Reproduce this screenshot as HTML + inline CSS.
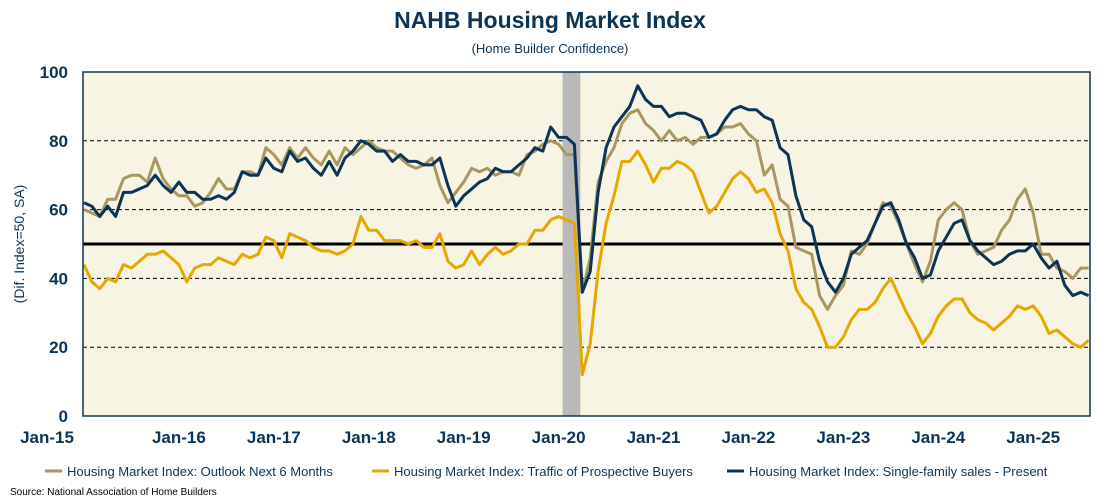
<!DOCTYPE html>
<html><head><meta charset="utf-8"><style>
body{margin:0;background:#fff;width:1100px;height:500px;overflow:hidden;font-family:"Liberation Sans",sans-serif;}
svg{display:block}
</style></head><body>
<svg id="chart" width="1100" height="500">
<text x="550" y="28" text-anchor="middle" font-size="23" font-weight="bold" fill="#0b3457">NAHB Housing Market Index</text>
<text x="550" y="53" text-anchor="middle" font-size="13" fill="#0b3457">(Home Builder Confidence)</text>
<rect x="83" y="72" width="1007" height="344" fill="#f8f4e4"/>
<g id="grid"></g>
<g id="marks"></g>
<rect x="83" y="72" width="1007" height="344" fill="none" stroke="#0b3457" stroke-width="1.5"/>
<g id="yticks"></g>
<g id="xticks"></g>
<text transform="translate(24,244) rotate(-90)" text-anchor="middle" font-size="14" fill="#0b3457">(Dif. Index=50, SA)</text>
<g font-size="13" fill="#0b3457">
<g><line x1="45" y1="471" x2="62" y2="471" stroke="#a8975f" stroke-width="3"/><text x="67" y="476">Housing Market Index: Outlook Next 6 Months</text></g>
<g><line x1="372" y1="471" x2="389" y2="471" stroke="#e6a800" stroke-width="3"/><text x="394" y="476">Housing Market Index: Traffic of Prospective Buyers</text></g>
<g><line x1="727" y1="471" x2="744" y2="471" stroke="#0b3457" stroke-width="3"/><text x="749" y="476">Housing Market Index: Single-family sales - Present</text></g>
</g>
<text x="10" y="495" font-size="10" fill="#000">Source: National Association of Home Builders</text>
</svg>
<script>
const yTicks=[0,20,40,60,80,100];
const xTickLabels=["Jan-15","Jan-16","Jan-17","Jan-18","Jan-19","Jan-20","Jan-21","Jan-22","Jan-23","Jan-24","Jan-25"];
const recessionStart=61, recessionEnd=63;
const present=[62,61,58,61,58,65,65,66,67,70,67,65,68,65,65,63,63,64,63,65,71,70,70,75,72,71,77,74,75,72,70,74,70,75,77,80,79,77,77,74,76,74,74,73,73,75,67,61,64,66,68,69,72,71,71,73,75,78,77,84,81,81,79,36,42,65,78,84,87,90,96,92,90,90,87,88,88,87,86,81,82,86,89,90,89,89,87,86,78,76,64,57,55,45,39,36,40,47,49,51,56,61,62,57,50,46,40,41,48,52,56,57,51,48,46,44,45,47,48,48,50,46,43,45,38,35,36,35];
const outlook=[60,59,58,63,63,69,70,70,68,75,69,66,64,64,61,62,65,69,66,66,71,71,70,78,76,73,78,75,78,75,73,77,73,78,76,78,80,78,77,77,75,73,72,73,75,67,62,65,68,72,71,72,70,71,71,70,76,77,79,80,79,76,76,36,46,68,74,78,85,88,89,85,83,80,83,80,81,79,81,81,82,84,84,85,82,80,70,73,63,61,49,48,47,35,31,35,38,48,47,50,56,62,61,56,50,44,39,45,57,60,62,60,51,47,48,49,54,57,63,66,59,47,47,43,42,40,43,43];
const traffic=[44,39,37,40,39,44,43,45,47,47,48,46,44,39,43,44,44,46,45,44,47,46,47,52,51,46,53,52,51,49,48,48,47,48,50,58,54,54,51,51,51,50,51,49,49,53,45,43,44,48,44,47,49,47,48,50,50,54,54,57,58,57,56,12,21,42,56,64,74,74,77,73,68,72,72,74,73,71,65,59,61,65,69,71,69,65,66,62,53,48,37,33,31,26,20,20,23,28,31,31,33,37,40,35,30,26,21,24,29,32,34,34,30,28,27,25,27,29,32,31,32,29,24,25,23,21,20,22];
const NS="http://www.w3.org/2000/svg";
const X0=84, DX=7.91, Y0=416, YS=3.44;
const xs=i=>X0+DX*i;
const ys=v=>Y0-v*YS;
function mk(tag,attrs,parent){const e=document.createElementNS(NS,tag);for(const k in attrs)e.setAttribute(k,attrs[k]);parent.appendChild(e);return e;}
const grid=document.getElementById('grid'),marks=document.getElementById('marks'),yt=document.getElementById('yticks'),xt=document.getElementById('xticks');
yTicks.forEach(t=>{
  if(t>0&&t<100){const l=mk('line',{x1:83,x2:1090,y1:ys(t),y2:ys(t),stroke:'#000','stroke-width':1,'stroke-dasharray':'4,3'},grid);
  
  }
  const tx=mk('text',{x:68,y:ys(t)+6,'text-anchor':'end','font-size':17,'font-weight':'bold',fill:'#0b3457'},yt);tx.textContent=t;
  
  
});
const ref=mk('line',{x1:83,x2:1090,y1:ys(50),y2:ys(50),stroke:'#000','stroke-width':3},grid);


const rb=mk('rect',{x:xs(recessionStart-0.5),y:72,width:xs(recessionEnd)-xs(recessionStart-0.5)-2,height:344,fill:'#b9b9b9'},marks);


xTickLabels.forEach((lab,k)=>{
  let x=xs(k*12); if(k===0)x=47;
  const tx=mk('text',{x:x,y:443,'text-anchor':'middle','font-size':17,'font-weight':'bold',fill:'#0b3457'},xt);tx.textContent=lab;
  
  
});
function line(data,color,name){
  const p=mk('polyline',{points:data.map((v,i)=>xs(i).toFixed(1)+','+ys(v).toFixed(1)).join(' '),fill:'none',stroke:color,'stroke-width':3,'stroke-linejoin':'round'},marks);
  
  
}
line(outlook,'#a8975f','series-outlook-next-6-months');
line(traffic,'#e6a800','series-traffic-prospective-buyers');
line(present,'#0b3457','series-single-family-sales-present');
</script>
</body></html>
